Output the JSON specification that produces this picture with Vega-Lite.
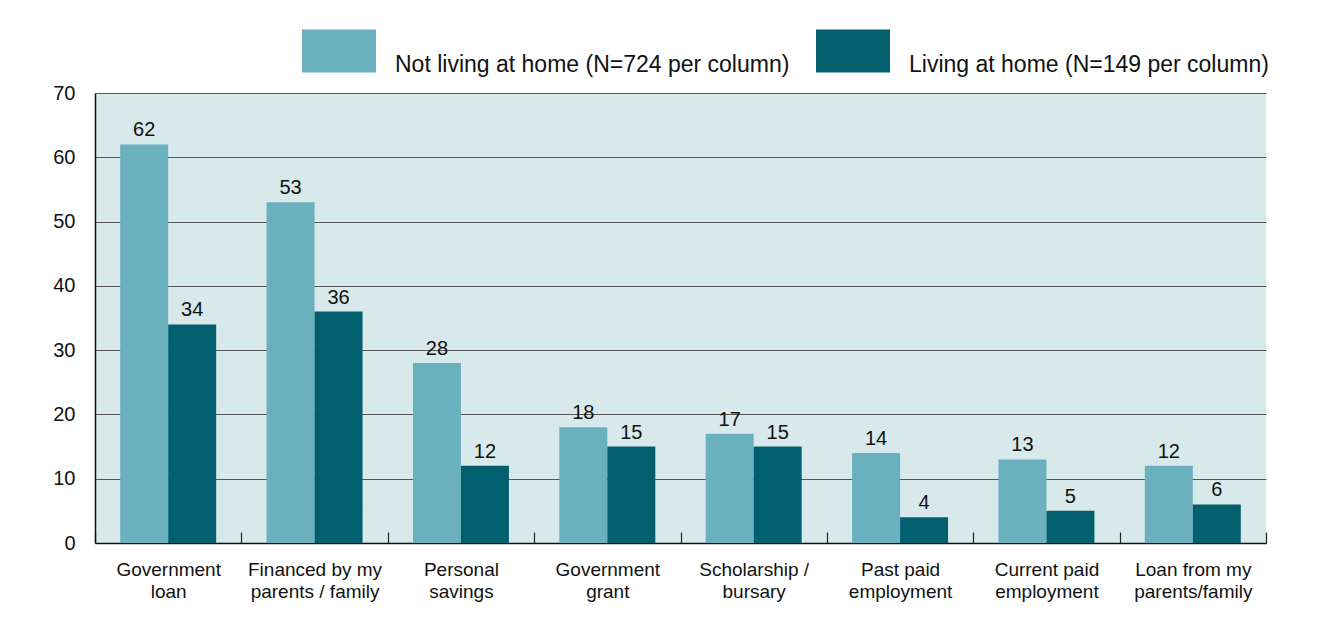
{
  "$schema": "https://vega.github.io/schema/vega-lite/v6.json",
  "width": 1171,
  "height": 450,
  "autosize": {"type": "none"},
  "padding": {"left": 95, "top": 93, "right": 51, "bottom": 75},
  "background": "white",
  "config": {
    "view": {"fill": "#d8e9ec", "stroke": null},
    "font": "Liberation Sans"
  },
  "data": {
    "values": [
      {"cat": "Government|loan", "grp": "Not living at home (N=724 per column)", "v": 62},
      {"cat": "Government|loan", "grp": "Living at home (N=149 per column)", "v": 34},
      {"cat": "Financed by my|parents / family", "grp": "Not living at home (N=724 per column)", "v": 53},
      {"cat": "Financed by my|parents / family", "grp": "Living at home (N=149 per column)", "v": 36},
      {"cat": "Personal|savings", "grp": "Not living at home (N=724 per column)", "v": 28},
      {"cat": "Personal|savings", "grp": "Living at home (N=149 per column)", "v": 12},
      {"cat": "Government|grant", "grp": "Not living at home (N=724 per column)", "v": 18},
      {"cat": "Government|grant", "grp": "Living at home (N=149 per column)", "v": 15},
      {"cat": "Scholarship /|bursary", "grp": "Not living at home (N=724 per column)", "v": 17},
      {"cat": "Scholarship /|bursary", "grp": "Living at home (N=149 per column)", "v": 15},
      {"cat": "Past paid|employment", "grp": "Not living at home (N=724 per column)", "v": 14},
      {"cat": "Past paid|employment", "grp": "Living at home (N=149 per column)", "v": 4},
      {"cat": "Current paid|employment", "grp": "Not living at home (N=724 per column)", "v": 13},
      {"cat": "Current paid|employment", "grp": "Living at home (N=149 per column)", "v": 5},
      {"cat": "Loan from my|parents/family", "grp": "Not living at home (N=724 per column)", "v": 12},
      {"cat": "Loan from my|parents/family", "grp": "Living at home (N=149 per column)", "v": 6}
    ]
  },
  "encoding": {
    "x": {
      "field": "cat",
      "type": "nominal",
      "sort": null,
      "scale": {"paddingInner": 0, "paddingOuter": 0},
      "axis": {
        "title": null,
        "labelAngle": 0,
        "labelExpr": "split(datum.label, '|')",
        "labelFontSize": 19,
        "labelLineHeight": 22,
        "labelColor": "#111",
        "labelBaseline": "top",
        "labelPadding": 28,
        "tickBand": "extent",
        "tickSize": -11,
        "tickColor": "#222",
        "tickWidth": 1.2,
        "domainColor": "#111",
        "domainWidth": 1.5,
        "grid": false
      }
    },
    "xOffset": {
      "field": "grp",
      "type": "nominal",
      "sort": ["Not living at home (N=724 per column)", "Living at home (N=149 per column)"],
      "scale": {"paddingInner": 0, "paddingOuter": 0.525}
    },
    "y": {
      "field": "v",
      "type": "quantitative",
      "scale": {"domain": [0, 70], "nice": false},
      "axis": {
        "title": null,
        "values": [0, 10, 20, 30, 40, 50, 60, 70],
        "grid": true,
        "gridColor": "#555",
        "gridWidth": 1,
        "ticks": false,
        "labelPadding": 20,
        "labelFontSize": 20,
        "labelColor": "#111",
        "domainColor": "#111",
        "domainWidth": 1.5
      }
    }
  },
  "layer": [
    {
      "mark": {"type": "bar"},
      "encoding": {
        "color": {
          "field": "grp",
          "type": "nominal",
          "scale": {
            "domain": ["Not living at home (N=724 per column)", "Living at home (N=149 per column)"],
            "range": ["#6ab0be", "#02606e"]
          },
          "legend": {
            "title": null,
            "orient": "none",
            "direction": "horizontal",
            "legendX": 207,
            "legendY": -79,
            "padding": 0,
            "symbolType": "M-1,-0.58L1,-0.58L1,0.58L-1,0.58Z",
            "symbolSize": 5476,
            "symbolOpacity": 1,
            "symbolStrokeWidth": 0,
            "labelFontSize": 23,
            "labelColor": "#111",
            "labelOffset": 19,
            "columnPadding": 26,
            "labelBaseline": "alphabetic",
            "labelLimit": 600,
            "encode": {"labels": {"update": {"dy": {"value": 21}}}}
          }
        }
      }
    },
    {
      "mark": {"type": "text", "dy": -8, "baseline": "alphabetic", "fontSize": 20, "color": "#111"},
      "encoding": {"text": {"field": "v", "type": "quantitative"}}
    }
  ]
}
